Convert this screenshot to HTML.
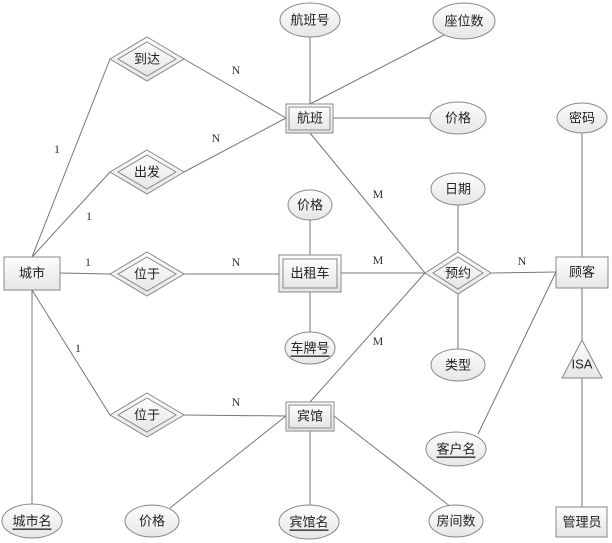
<!DOCTYPE html>
<html><head><meta charset="utf-8"><style>
html,body{margin:0;padding:0;background:#fff}
svg{display:block}
text{font-family:"Liberation Sans","Noto Sans CJK SC",sans-serif;font-size:13px;fill:#222;text-anchor:middle;dominant-baseline:central}
.c{font-family:"Liberation Serif",serif;font-size:12px;fill:#333}
</style></head><body>
<svg width="612" height="543" viewBox="0 0 612 543">
<defs>
<linearGradient id="g" x1="0" y1="0" x2="0" y2="1"><stop offset="0" stop-color="#fdfdfd"/><stop offset="1" stop-color="#e6e6e6"/></linearGradient>
</defs>
<g stroke="#777" stroke-width="1" fill="none">
<line x1="32" y1="257" x2="110" y2="59"/>
<line x1="32" y1="257" x2="110" y2="172"/>
<line x1="60" y1="273" x2="110" y2="274"/>
<line x1="32" y1="290" x2="110" y2="415"/>
<line x1="32" y1="290" x2="32" y2="505"/>
<line x1="184" y1="59" x2="286" y2="118"/>
<line x1="184" y1="172" x2="286" y2="118"/>
<line x1="184" y1="274" x2="279" y2="274"/>
<line x1="184" y1="415" x2="286" y2="416"/>
<line x1="310" y1="37" x2="310" y2="104"/>
<line x1="310" y1="104" x2="444" y2="35"/>
<line x1="333" y1="118" x2="430" y2="118"/>
<line x1="310" y1="133" x2="425" y2="273"/>
<line x1="341" y1="273" x2="425" y2="273"/>
<line x1="310" y1="402" x2="425" y2="273"/>
<line x1="310" y1="220" x2="310" y2="255"/>
<line x1="310" y1="292" x2="310" y2="332"/>
<line x1="458" y1="205" x2="458" y2="253"/>
<line x1="458" y1="293" x2="458" y2="349"/>
<line x1="491" y1="273" x2="556" y2="272"/>
<line x1="556" y1="272" x2="478" y2="434"/>
<line x1="582" y1="133" x2="582" y2="257"/>
<line x1="582" y1="288" x2="582" y2="340"/>
<line x1="582" y1="378" x2="582" y2="507"/>
<line x1="286" y1="416" x2="170" y2="508"/>
<line x1="334" y1="416" x2="451" y2="507"/>
<line x1="310" y1="431" x2="310" y2="506"/>
</g>
<g stroke="#888" fill="url(#g)">
<rect x="4" y="257" width="56" height="33"/>
<rect x="556" y="257" width="52" height="31"/>
<rect x="556" y="507" width="51" height="30"/>
<rect x="286" y="104" width="47" height="29"/><rect x="289" y="107" width="41" height="23"/>
<rect x="279" y="255" width="62" height="37"/><rect x="283" y="259" width="54" height="29"/>
<rect x="286" y="402" width="48" height="29"/><rect x="289" y="405" width="42" height="23"/>
<polygon points="147,37 184,59 147,81 110,59"/><polygon points="147,42 176,59 147,76 118,59"/>
<polygon points="147,150 184,172 147,194 110,172"/><polygon points="147,155 176,172 147,189 118,172"/>
<polygon points="147,252 184,274 147,296 110,274"/><polygon points="147,257 176,274 147,291 118,274"/>
<polygon points="147,393 184,415 147,437 110,415"/><polygon points="147,398 176,415 147,432 118,415"/>
<polygon points="458,252 491,273 458,294 425,273"/><polygon points="458,257 483,273 458,289 433,273"/>
<polygon points="582,340 602,378 562,378"/>
<ellipse cx="310" cy="20" rx="30" ry="17"/>
<ellipse cx="464" cy="21" rx="31" ry="18"/>
<ellipse cx="458" cy="118" rx="28" ry="16"/>
<ellipse cx="582" cy="118" rx="25" ry="15"/>
<ellipse cx="310" cy="205" rx="22" ry="15"/>
<ellipse cx="458" cy="189" rx="27" ry="16"/>
<ellipse cx="310" cy="348" rx="25" ry="16"/>
<ellipse cx="458" cy="365" rx="27" ry="16"/>
<ellipse cx="456" cy="449" rx="30" ry="17"/>
<ellipse cx="32" cy="521" rx="30" ry="17"/>
<ellipse cx="152" cy="521" rx="27" ry="16"/>
<ellipse cx="309" cy="522" rx="30" ry="17"/>
<ellipse cx="456" cy="521" rx="27" ry="16"/>
</g>
<text x="32" y="273">城市</text>
<text x="582" y="272">顾客</text>
<text x="582" y="522">管理员</text>
<text x="310" y="118">航班</text>
<text x="310" y="273">出租车</text>
<text x="310" y="416">宾馆</text>
<text x="147" y="59">到达</text>
<text x="147" y="172">出发</text>
<text x="147" y="274">位于</text>
<text x="147" y="415">位于</text>
<text x="458" y="273">预约</text>
<text x="582" y="364">ISA</text>
<text x="310" y="20">航班号</text>
<text x="464" y="21">座位数</text>
<text x="458" y="118">价格</text>
<text x="582" y="118">密码</text>
<text x="310" y="205">价格</text>
<text x="458" y="189">日期</text>
<text x="310" y="348" text-decoration="underline">车牌号</text>
<text x="458" y="365">类型</text>
<text x="456" y="449" text-decoration="underline">客户名</text>
<text x="32" y="521" text-decoration="underline">城市名</text>
<text x="152" y="521">价格</text>
<text x="309" y="522" text-decoration="underline">宾馆名</text>
<text x="456" y="521">房间数</text>
<text class="c" x="236" y="70">N</text>
<text class="c" x="216" y="138">N</text>
<text class="c" x="57" y="149">1</text>
<text class="c" x="89" y="216">1</text>
<text class="c" x="88" y="262">1</text>
<text class="c" x="236" y="262">N</text>
<text class="c" x="78" y="348">1</text>
<text class="c" x="236" y="402">N</text>
<text class="c" x="378" y="194">M</text>
<text class="c" x="378" y="260">M</text>
<text class="c" x="378" y="341">M</text>
<text class="c" x="522" y="261">N</text>
</svg>
</body></html>
